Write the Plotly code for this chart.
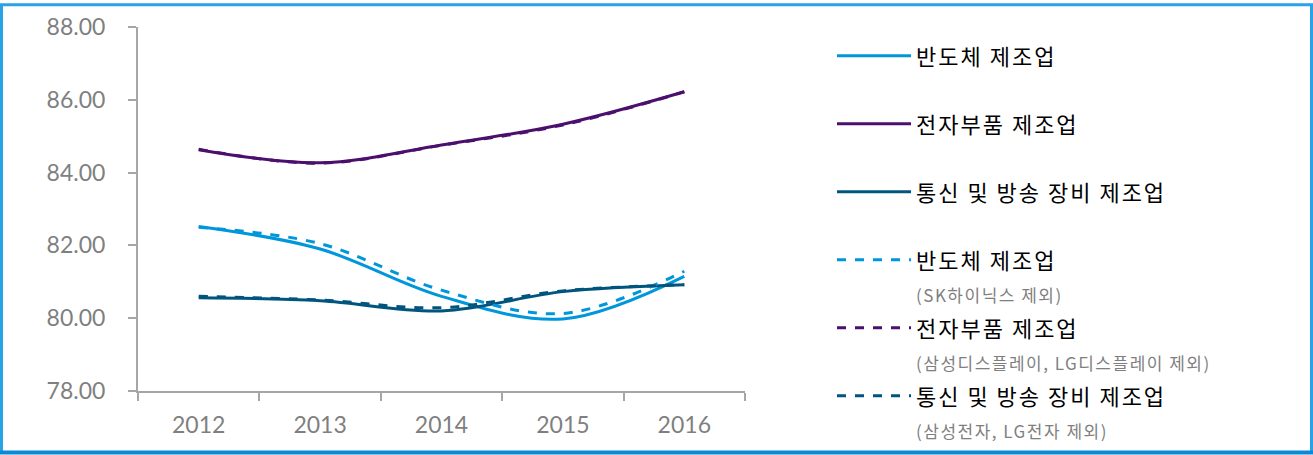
import plotly.graph_objects as go

years = ["2012", "2013", "2014", "2015", "2016"]

semi = [82.52, 81.90, 80.60, 79.98, 81.15]
elec = [84.63, 84.27, 84.76, 85.33, 86.22]
comm = [80.56, 80.48, 80.20, 80.73, 80.92]
semi_ex = [82.50, 82.05, 80.77, 80.13, 81.29]
elec_ex = [84.64, 84.26, 84.75, 85.31, 86.22]
comm_ex = [80.60, 80.50, 80.29, 80.75, 80.92]

names = [
    "반도체 제조업",
    "전자부품 제조업",
    "통신 및 방송 장비 제조업",
    "반도체 제조업",
    "전자부품 제조업",
    "통신 및 방송 장비 제조업",
]
subs = ["", "", "", "(SK하이닉스 제외)", "(삼성디스플레이, LG디스플레이 제외)", "(삼성전자, LG전자 제외)"]

c_semi = "#0096dc"
c_elec = "#4b0f6e"
c_comm = "#00557f"

series = [
    (semi, c_semi, "solid"),
    (elec, c_elec, "solid"),
    (comm, c_comm, "solid"),
    (semi_ex, c_semi, "dash"),
    (elec_ex, c_elec, "dash"),
    (comm_ex, c_comm, "dash"),
]

fig = go.Figure()
for i, (vals, col, dash) in enumerate(series):
    sub = subs[i] if subs[i] else " "
    label = ("<span style='font-size:22px;letter-spacing:2px'>" + names[i] + "</span><br>"
             "<span style='font-size:17px;color:#7f7f7f;letter-spacing:1.5px'>" + sub + "</span>")
    fig.add_trace(go.Scatter(
        x=years, y=vals, mode="lines", name=label, legendgroup=str(i),
        line=dict(color=col, width=3, dash=dash, shape="spline", smoothing=1.0),
    ))

W, H = 1313, 455
L, R, T, B = 138, 568, 24, 64
pw, ph = W - L - R, H - T - B

fig.update_layout(
    width=W, height=H,
    margin=dict(l=L, r=R, t=T, b=B),
    paper_bgcolor="white", plot_bgcolor="white",
    font=dict(family="Noto Sans CJK KR", color="#000000"),
    showlegend=True,
    legend=dict(
        x=(832 - L) / pw, y=1 - (30 - T) / ph, xanchor="left", yanchor="top",
        font=dict(size=25, family="Noto Sans CJK KR", color="#000000"),
        traceorder="grouped", tracegroupgap=0, valign="top", itemwidth=74,
        bgcolor="rgba(0,0,0,0)", maxheight=450,
    ),
    xaxis=dict(
        type="category", range=[-0.5, 4.5], showgrid=False, zeroline=False,
        showline=True, linecolor="#a6a6a6", linewidth=2,
        ticks="outside", tickson="boundaries", ticklen=8, tickcolor="#a6a6a6", tickwidth=2,
        tickfont=dict(family="Lato", size=23, color="#7f7f7f"), ticklabelstandoff=12,
    ),
    yaxis=dict(
        range=[78, 88], dtick=2, tickformat=".2f", showgrid=False, zeroline=False,
        showline=True, linecolor="#a6a6a6", linewidth=2,
        ticks="outside", ticklen=8, tickcolor="#a6a6a6", tickwidth=2,
        tickfont=dict(family="Lato", size=23, color="#7f7f7f"), ticklabelstandoff=18,
    ),
)

# outer frame
fig.add_shape(type="rect", xref="paper", yref="paper",
              x0=(1.5 - L) / pw, x1=(W - 1.5 - L) / pw,
              y0=-(B - 2) / ph, y1=1 + (T - 1.5) / ph,
              line=dict(color="#29a3e6", width=3), fillcolor="rgba(0,0,0,0)", layer="above")
fig.add_shape(type="line", xref="paper", yref="paper",
              x0=-L / pw, x1=(W - L) / pw,
              y0=-(B - 2) / ph, y1=-(B - 2) / ph,
              line=dict(color="#0a8ad4", width=4), layer="above")

fig.write_html("out.html", config={"displayModeBar": False},
               post_script="document.body.style.margin='0';document.body.style.overflow='hidden';")
